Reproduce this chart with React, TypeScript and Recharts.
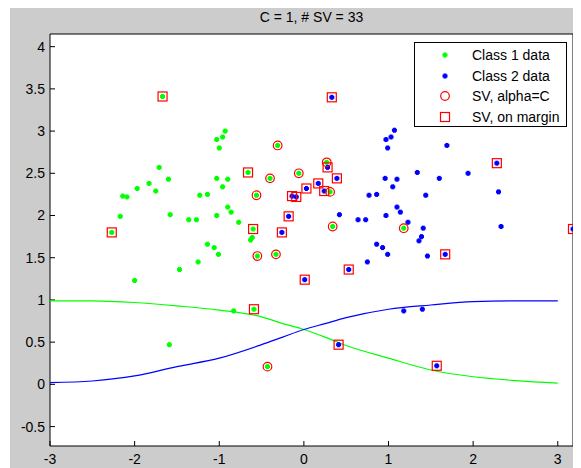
import React from "react";
import { ScatterChart, Scatter, XAxis, YAxis, CartesianGrid, Legend } from "recharts";

// class 1 (green) samples
const class1 = [
  [-1.67, 3.41], [-0.93, 3.0], [-0.96, 2.93], [-1.03, 2.9], [-1.0, 2.8],
  [-1.71, 2.57], [-0.66, 2.51], [-1.6, 2.43], [-1.03, 2.44], [-0.9, 2.43],
  [-1.83, 2.38], [-1.97, 2.32], [-1.75, 2.29], [-0.96, 2.34], [-0.56, 2.24],
  [-2.14, 2.23], [-2.09, 2.22], [-1.23, 2.24], [-1.14, 2.25], [-0.9, 2.1],
  [-0.86, 2.04], [-2.17, 1.99], [-1.58, 2.01], [-1.36, 1.95], [-1.27, 1.95],
  [-1.03, 2.0], [-0.77, 1.92], [-2.27, 1.8], [-0.6, 1.84], [-0.61, 1.74],
  [-0.63, 1.71], [-1.14, 1.66], [-1.06, 1.62], [-1.01, 1.54], [-0.55, 1.52],
  [-1.25, 1.45], [-1.47, 1.36], [-2.0, 1.23], [-0.83, 0.87], [-0.59, 0.89],
  [-1.59, 0.47], [-0.43, 0.21], [-0.31, 2.83], [-0.4, 2.44], [-0.06, 2.5],
  [0.27, 2.63], [0.31, 2.28], [1.18, 1.85], [0.34, 1.87], [-0.33, 1.54],
];

// class 2 (blue) samples
const class2 = [
  [0.28, 2.57], [0.24, 2.29], [0.17, 2.38], [0.03, 2.32], [0.39, 2.44],
  [0.33, 3.4], [-0.14, 2.23], [-0.09, 2.22], [-0.18, 1.99], [-0.26, 1.8],
  [0.53, 1.36], [0.01, 1.24], [0.41, 0.47], [2.28, 2.62], [3.18, 1.84],
  [1.67, 1.54], [1.57, 0.22], [0.77, 2.24], [0.86, 2.25], [0.97, 2.9],
  [0.99, 2.8], [0.96, 2.44], [0.42, 2.01], [0.64, 1.95], [0.73, 1.95],
  [0.97, 2.0], [1.07, 3.01], [1.03, 2.93], [1.69, 2.83], [1.34, 2.51],
  [1.94, 2.5], [1.1, 2.43], [1.6, 2.44], [1.05, 2.34], [2.3, 2.28],
  [1.44, 2.24], [1.1, 2.1], [1.14, 2.04], [1.23, 1.92], [1.41, 1.85],
  [2.33, 1.87], [1.39, 1.75], [1.36, 1.7], [0.93, 1.62], [0.99, 1.54],
  [1.46, 1.52], [0.86, 1.66], [0.75, 1.45], [1.18, 0.87], [1.4, 0.89],
];

// support vectors with alpha = C
const svBound = [
  [-0.56, 2.24], [-0.31, 2.83], [-0.4, 2.44], [-0.06, 2.5], [0.27, 2.63],
  [0.31, 2.28], [1.18, 1.85], [0.34, 1.87], [-0.55, 1.52], [-0.33, 1.54],
  [-0.43, 0.21],
];

// support vectors on the margin
const svMargin = [
  [-1.67, 3.41], [-0.66, 2.51], [-2.27, 1.8], [-0.6, 1.84], [-0.59, 0.89],
  [0.28, 2.57], [0.24, 2.29], [0.17, 2.38], [0.03, 2.32], [0.39, 2.44],
  [0.33, 3.4], [-0.14, 2.23], [-0.09, 2.22], [-0.18, 1.99], [-0.26, 1.8],
  [0.53, 1.36], [0.01, 1.24], [0.41, 0.47], [2.28, 2.62], [3.18, 1.84],
  [1.67, 1.54], [1.57, 0.22],
];

// probability curves
const curveX = [-3, -2.5, -2, -1.5, -1, -0.5, -0.25, 0, 0.25, 0.5, 1, 1.5, 2, 2.5, 3];
const curve1 = [0.99, 0.99, 0.97, 0.93, 0.88, 0.8, 0.72, 0.65, 0.56, 0.46, 0.31, 0.17, 0.09, 0.045, 0.015];
const curve2 = [0.02, 0.04, 0.1, 0.21, 0.31, 0.47, 0.56, 0.65, 0.72, 0.79, 0.89, 0.94, 0.98, 0.99, 0.99];

const xTicks = [-3, -2, -1, 0, 1, 2, 3];
const yTicks = [-0.5, 0, 0.5, 1, 1.5, 2, 2.5, 3, 3.5, 4];

const toPts = (a: number[][]) => a.map(([x, y]) => ({ x, y }));
const line1 = curveX.map((x, i) => ({ x, y: curve1[i] }));
const line2 = curveX.map((x, i) => ({ x, y: curve2[i] }));

const FONT = "'Liberation Sans', Arial, sans-serif";
const tickStyle = { fill: "#000", fontSize: 14, fontFamily: FONT };

// matlab '.' marker: small chunky plus
const blob = (cx: number, cy: number, color: string) => (
  <g>
    <rect x={cx - 2.5} y={cy - 1.5} width={5} height={3} fill={color} />
    <rect x={cx - 1.5} y={cy - 2.5} width={3} height={5} fill={color} />
  </g>
);
const greenDot = (p: any) => blob(p.cx, p.cy, "#00ff00");
const blueDot = (p: any) => blob(p.cx, p.cy, "#0000ff");
const ring = (p: any) => <circle cx={p.cx} cy={p.cy} r={4.3} fill="none" stroke="#ff0000" strokeWidth={1.2} />;
const box = (p: any) => (
  <rect x={p.cx - 4.5} y={p.cy - 4.5} width={9} height={9} fill="none" stroke="#ff0000" strokeWidth={1.2} />
);
const noMark = () => <g />;

const legendItems = [
  { name: "Class 1 data", mark: blob(30, 10, "#00ff00") },
  { name: "Class 2 data", mark: blob(30, 10, "#0000ff") },
  { name: "SV, alpha=C", mark: <circle cx={30} cy={10} r={4.3} fill="none" stroke="#ff0000" strokeWidth={1.2} /> },
  {
    name: "SV, on margin",
    mark: <rect x={25.5} y={5.5} width={9} height={9} fill="none" stroke="#ff0000" strokeWidth={1.2} />,
  },
];

const renderLegend = () => (
  <div
    style={{
      position: "relative",
      width: 153,
      height: 85,
      background: "#fff",
      border: "1px solid #000",
      boxSizing: "border-box",
      fontFamily: FONT,
      fontSize: 14,
      color: "#000",
    }}
  >
    {legendItems.map((it, i) => (
      <div
        key={it.name}
        style={{ position: "absolute", left: 0, top: 2 + i * 20.5, height: 20, display: "flex", alignItems: "center" }}
      >
        <svg width={57} height={20} style={{ display: "block" }}>
          {it.mark}
        </svg>
        <span style={{ whiteSpace: "nowrap" }}>{it.name}</span>
      </div>
    ))}
  </div>
);

export default function App() {
  return (
    <div style={{ position: "relative", width: 581, height: 468, margin: "-8px 0 0 -8px", background: "#fff" }}>
      <div style={{ position: "absolute", left: 10, top: 6, right: 0, bottom: 0, background: "#cccccc" }} />
      <div
        style={{
          position: "absolute",
          left: 50,
          width: 523,
          top: 9,
          height: 16,
          lineHeight: "16px",
          textAlign: "center",
          fontFamily: FONT,
          fontSize: 14,
          color: "#000",
        }}
      >
        C = 1, # SV = 33
      </div>
      <div style={{ position: "absolute", left: 0, top: 0 }}>
        <ScatterChart width={581} height={468} margin={{ top: 33, right: 0, bottom: 0, left: 0 }}>
          <CartesianGrid horizontal={false} vertical={false} fill="#fff" />
          <XAxis
            type="number"
            dataKey="x"
            domain={[-3, 3.18]}
            ticks={xTicks}
            allowDataOverflow
            height={22}
            tickSize={-5}
            tickMargin={13}
            tick={tickStyle}
            stroke="#000"
          />
          <XAxis
            xAxisId="top"
            orientation="top"
            type="number"
            dataKey="x"
            domain={[-3, 3.18]}
            ticks={xTicks}
            allowDataOverflow
            height={1}
            tickSize={-5}
            tick={false}
            stroke="#000"
          />
          <YAxis
            type="number"
            dataKey="y"
            domain={[-0.73, 4.15]}
            ticks={yTicks}
            allowDataOverflow
            width={50}
            tickSize={-5}
            tickMargin={10}
            tick={tickStyle}
            stroke="#000"
          />
          <YAxis
            yAxisId="right"
            orientation="right"
            type="number"
            dataKey="y"
            domain={[-0.73, 4.15]}
            ticks={yTicks}
            allowDataOverflow
            width={8}
            tickSize={-5}
            tick={false}
            stroke="#000"
          />
          <Legend
            layout="vertical"
            align="center"
            verticalAlign="middle"
            content={renderLegend}
            wrapperStyle={{ left: 414, top: 42, width: 153, height: 85 }}
          />
          <Scatter
            name="p1"
            data={line1}
            shape={noMark}
            line={{ stroke: "#00ff00", strokeWidth: 1.2 }}
            lineJointType="monotoneX"
            legendType="none"
            isAnimationActive={false}
          />
          <Scatter
            name="p2"
            data={line2}
            shape={noMark}
            line={{ stroke: "#0000ff", strokeWidth: 1.2 }}
            lineJointType="monotoneX"
            legendType="none"
            isAnimationActive={false}
          />
          <Scatter name="Class 1 data" data={toPts(class1)} shape={greenDot} isAnimationActive={false} />
          <Scatter name="Class 2 data" data={toPts(class2)} shape={blueDot} isAnimationActive={false} />
          <Scatter name="SV, alpha=C" data={toPts(svBound)} shape={ring} isAnimationActive={false} />
          <Scatter name="SV, on margin" data={toPts(svMargin)} shape={box} isAnimationActive={false} />
        </ScatterChart>
      </div>
    </div>
  );
}
